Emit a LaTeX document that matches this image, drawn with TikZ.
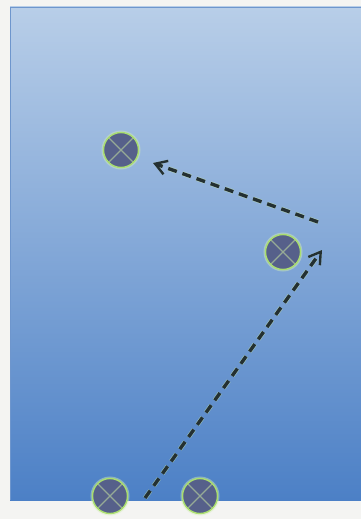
\documentclass[tikz,border=0pt]{standalone}
\usetikzlibrary{positioning,arrows.meta,calc}
\definecolor{paper}{RGB}{244,244,242}
\definecolor{skytop}{RGB}{184,206,232}
\definecolor{skybot}{RGB}{76,128,198}
\definecolor{rimblue}{RGB}{110,150,205}
\definecolor{slate}{RGB}{86,96,138}
\definecolor{glow}{RGB}{170,222,110}
\definecolor{crossgrey}{RGB}{150,170,150}
\definecolor{inkdark}{RGB}{36,48,50}

\begin{document}
\begin{tikzpicture}[
  x=1pt, y=-1pt,
  site/.style={circle, minimum size=35pt, inner sep=0pt, fill=slate,
               draw=glow, line width=1.4pt,
               preaction={draw=glow!50, line width=4pt, opacity=0.45},
               path picture={
                 \draw[crossgrey, line width=1.2pt]
                   (path picture bounding box.south west) -- (path picture bounding box.north east)
                   (path picture bounding box.north west) -- (path picture bounding box.south east);
               }},
  hop/.style={-{Straight Barb[length=4mm, width=5mm, line width=2.4pt]},
              inkdark, dash pattern=on 9pt off 6pt, line width=3.4pt,
              preaction={draw=glow!60, line width=4.6pt, dash pattern=on 9pt off 6pt, opacity=0.5}},
]
\useasboundingbox (0,0) rectangle (361,519);
\fill[paper] (0,0) rectangle (361,519);

% ---- panel ----
\shade[top color=skytop, bottom color=skybot] (10,7) rectangle (361,500);
\draw[rimblue, line width=0.8pt] (361,7) -- (10,7) -- (10,500);

% ---- sites ----
\node[site] (s1) at (121,150) {};
\node[site] (s2) at (283,252) {};
\node[site] (s3) at (110,496) {};
\node[site] (s4) at (200,496) {};

% ---- path ----
\coordinate (start) at (145,498);
\coordinate (turn)  at (322,250);
\coordinate (bend)  at (318,222);
\coordinate (goal)  at (153,163);
\draw[hop] (start) -- (turn);
\draw[hop] (bend) -- (goal);
\end{tikzpicture}
\end{document}
